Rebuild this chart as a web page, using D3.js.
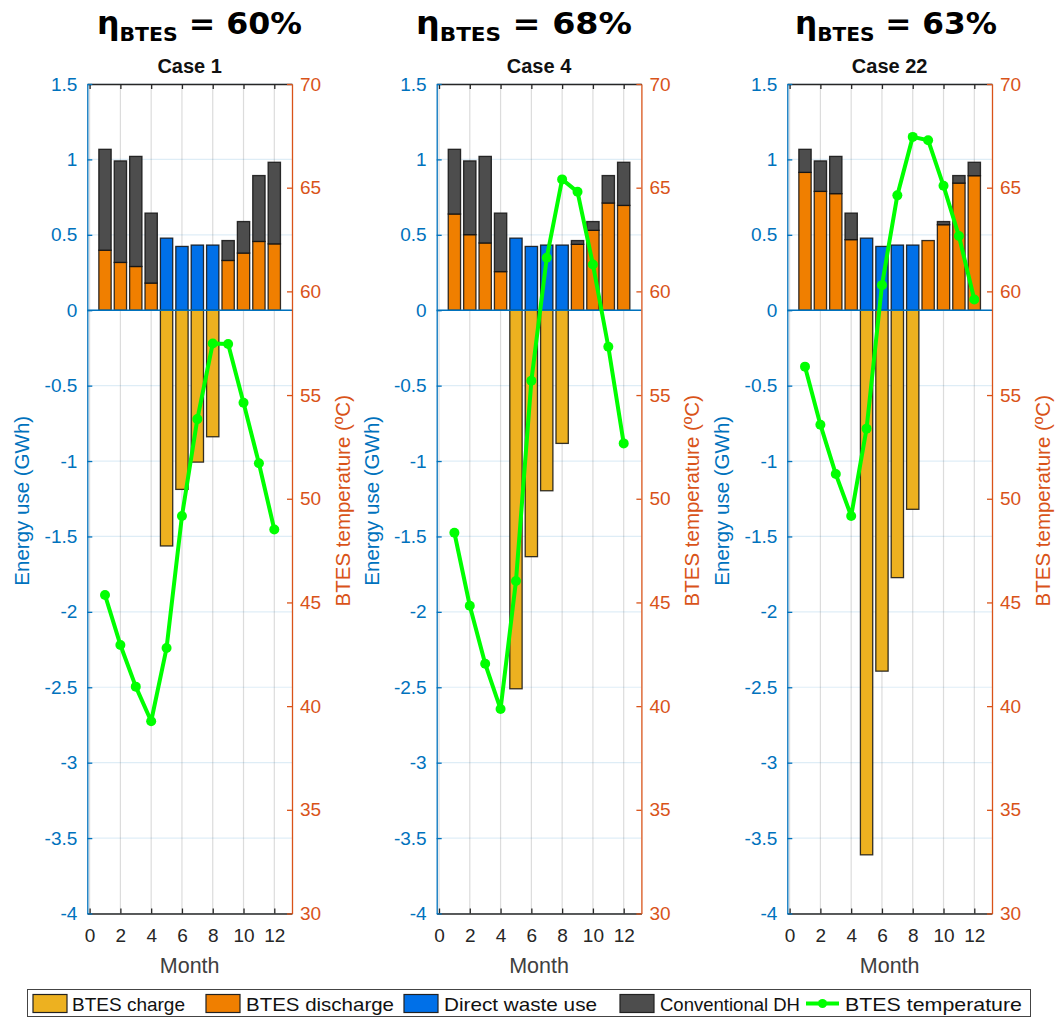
<!DOCTYPE html>
<html>
<head>
<meta charset="utf-8">
<script src="https://cdnjs.cloudflare.com/ajax/libs/d3/7.8.5/d3.min.js"></script>
<style>
  body { margin: 0; background: #fff; }
  svg { display: block; }
  text { font-family: "Liberation Sans", Arial, sans-serif; }
</style>
</head>
<body>
<svg id="chart" width="1055" height="1017"></svg>
<script>
// ---- data: monthly energy balance (GWh) and BTES temperature (°C) ----
const months = [1, 2, 3, 4, 5, 6, 7, 8, 9, 10, 11, 12];
const caseNames = ["Case 1", "Case 4", "Case 22"];
const efficiencies = ["60%", "68%", "63%"];

const directWasteUse = [0, 0, 0, 0, 0.478, 0.423, 0.432, 0.432, 0, 0, 0, 0];

const chargeCase1 = [0, 0, 0, 0, -1.563, -1.188, -1.007, -0.839, 0, 0, 0, 0];
const dischargeCase1 = [0.398, 0.317, 0.29, 0.18, 0, 0, 0, 0, 0.33, 0.379, 0.456, 0.44];
const conventionalCase1 = [0.669, 0.673, 0.73, 0.464, 0, 0, 0, 0, 0.132, 0.209, 0.437, 0.541];
const temperatureCase1 = [45.36, 42.95, 40.94, 39.27, 42.8, 49.17, 53.84, 57.49, 57.46, 54.63, 51.71, 48.52];

const chargeCase4 = [0, 0, 0, 0, -2.51, -1.634, -1.197, -0.883, 0, 0, 0, 0];
const dischargeCase4 = [0.638, 0.501, 0.446, 0.256, 0, 0, 0, 0, 0.437, 0.53, 0.711, 0.695];
const conventionalCase4 = [0.429, 0.489, 0.574, 0.388, 0, 0, 0, 0, 0.025, 0.058, 0.182, 0.286];
const temperatureCase4 = [48.36, 44.84, 42.04, 39.86, 46.03, 55.69, 61.62, 65.4, 64.8, 61.3, 57.33, 52.67];

const chargeCase22 = [0, 0, 0, 0, -3.611, -2.393, -1.773, -1.32, 0, 0, 0, 0];
const dischargeCase22 = [0.914, 0.788, 0.773, 0.468, 0, 0, 0, 0, 0.462, 0.567, 0.843, 0.892];
const conventionalCase22 = [0.153, 0.202, 0.247, 0.176, 0, 0, 0, 0, 0, 0.021, 0.05, 0.089];
const temperatureCase22 = [56.37, 53.57, 51.19, 49.17, 53.38, 60.3, 64.63, 67.45, 67.29, 65.09, 62.67, 59.61];

const energyTicks = [-4, -3.5, -3, -2.5, -2, -1.5, -1, -0.5, 0, 0.5, 1, 1.5];
const energyTickLabels = ["-4", "-3.5", "-3", "-2.5", "-2", "-1.5", "-1", "-0.5", "0", "0.5", "1", "1.5"];
const tempTicks = [30, 35, 40, 45, 50, 55, 60, 65, 70];
const tempTickLabels = ["30", "35", "40", "45", "50", "55", "60", "65", "70"];
const monthTicks = [0, 2, 4, 6, 8, 10, 12];
const monthTickLabels = ["0", "2", "4", "6", "8", "10", "12"];

const seriesNames = ["BTES charge", "BTES discharge", "Direct waste use", "Conventional DH", "BTES temperature"];

// ---- table used for drawing ----
const panels = [
  { name: caseNames[0], eff: efficiencies[0], charge: chargeCase1, discharge: dischargeCase1, conventional: conventionalCase1, temp: temperatureCase1 },
  { name: caseNames[1], eff: efficiencies[1], charge: chargeCase4, discharge: dischargeCase4, conventional: conventionalCase4, temp: temperatureCase4 },
  { name: caseNames[2], eff: efficiencies[2], charge: chargeCase22, discharge: dischargeCase22, conventional: conventionalCase22, temp: temperatureCase22 }
];

// ---- styling / layout ----
const COLORS = {
  charge: "#EDB120",
  discharge: "#F07F00",
  direct: "#0070E8",
  conventional: "#4D4D4D",
  temp: "#00FF00",
  leftAxis: "#0072BD",
  rightAxis: "#D95319",
  axis: "#262626"
};
const panelLefts = [87.3, 436.7, 787.3];
const titleSpans = [[97, 302], [416, 632], [795, 997]];
const plotW = 204.7;
const plotTop = 84, plotBottom = 913.5;
const barWidth = 0.8;

const svg = d3.select("#chart");

panels.forEach((p, pi) => {
  const left = panelLefts[pi];
  const right = left + plotW;
  const x = d3.scaleLinear().domain([-0.15, 13.15]).range([left, right]);
  const yE = d3.scaleLinear().domain([-4, 1.5]).range([plotBottom, plotTop]);
  const yT = d3.scaleLinear().domain([30, 70]).range([plotBottom, plotTop]);
  const g = svg.append("g").attr("class", "panel");

  // grid
  g.append("g").selectAll("line").data(monthTicks).join("line")
    .attr("x1", d => x(d)).attr("x2", d => x(d))
    .attr("y1", plotTop).attr("y2", plotBottom)
    .attr("stroke", "#dcdcdc").attr("stroke-width", 1.2);
  g.append("g").selectAll("line").data(energyTicks).join("line")
    .attr("x1", left).attr("x2", right)
    .attr("y1", d => yE(d)).attr("y2", d => yE(d))
    .attr("stroke", COLORS.leftAxis).attr("stroke-opacity", 0.13).attr("stroke-width", 1.2);

  // stacked bars
  const segs = [];
  months.forEach((m, i) => {
    if (p.charge[i] !== 0) segs.push({ m, y0: 0, y1: p.charge[i], c: COLORS.charge });
    let base = 0;
    if (p.discharge[i] > 0) { segs.push({ m, y0: base, y1: base + p.discharge[i], c: COLORS.discharge }); base += p.discharge[i]; }
    if (directWasteUse[i] > 0) { segs.push({ m, y0: base, y1: base + directWasteUse[i], c: COLORS.direct }); base += directWasteUse[i]; }
    if (p.conventional[i] > 0) { segs.push({ m, y0: base, y1: base + p.conventional[i], c: COLORS.conventional }); base += p.conventional[i]; }
  });
  g.append("g").selectAll("rect").data(segs).join("rect")
    .attr("x", d => x(d.m - barWidth / 2))
    .attr("width", d => x(d.m + barWidth / 2) - x(d.m - barWidth / 2))
    .attr("y", d => Math.min(yE(d.y0), yE(d.y1)))
    .attr("height", d => Math.abs(yE(d.y1) - yE(d.y0)))
    .attr("fill", d => d.c)
    .attr("stroke", "#111").attr("stroke-width", 1.3).attr("stroke-opacity", 0.85);

  // bar baseline
  g.append("line")
    .attr("x1", left).attr("x2", right)
    .attr("y1", yE(0)).attr("y2", yE(0))
    .attr("stroke", COLORS.leftAxis).attr("stroke-width", 1.3);

  // temperature line
  const line = d3.line().x((d, i) => x(months[i])).y(d => yT(d));
  g.append("path").datum(p.temp)
    .attr("d", line).attr("fill", "none")
    .attr("stroke", COLORS.temp).attr("stroke-width", 4).attr("stroke-linejoin", "round");
  g.append("g").selectAll("circle").data(p.temp).join("circle")
    .attr("cx", (d, i) => x(months[i])).attr("cy", d => yT(d)).attr("r", 5)
    .attr("fill", COLORS.temp);

  // axes
  const topAxis = d3.axisTop(x).tickValues(monthTicks).tickFormat("").tickSizeInner(-5).tickSizeOuter(0);
  const bottomAxis = d3.axisBottom(x).tickValues(monthTicks)
    .tickFormat((d, i) => monthTickLabels[i]).tickSizeInner(-5).tickSizeOuter(0).tickPadding(15);
  const leftAxis = d3.axisLeft(yE).tickValues(energyTicks)
    .tickFormat((d, i) => energyTickLabels[i]).tickSizeInner(-5).tickSizeOuter(0).tickPadding(10);
  const rightAxis = d3.axisRight(yT).tickValues(tempTicks)
    .tickFormat((d, i) => tempTickLabels[i]).tickSizeInner(-5).tickSizeOuter(0).tickPadding(8);

  const styleAxis = (sel, color) => {
    sel.select(".domain").attr("stroke", color).attr("stroke-width", 1.3);
    sel.selectAll(".tick line").attr("stroke", color).attr("stroke-width", 1.3);
    sel.selectAll(".tick text").attr("fill", color).attr("font-size", 19)
      .attr("font-family", "'Liberation Sans', Arial, sans-serif");
  };
  g.append("g").attr("transform", `translate(0,${plotTop})`).call(topAxis).call(s => styleAxis(s, COLORS.axis));
  g.append("g").attr("transform", `translate(0,${plotBottom})`).call(bottomAxis).call(s => styleAxis(s, COLORS.axis));
  g.append("g").attr("transform", `translate(${left},0)`).call(leftAxis).call(s => styleAxis(s, COLORS.leftAxis));
  g.append("g").attr("transform", `translate(${right},0)`).call(rightAxis).call(s => styleAxis(s, COLORS.rightAxis));

  // axis labels
  const midY = (plotTop + plotBottom) / 2;
  g.append("text").attr("transform", `translate(${left - 58},${midY + 2}) rotate(-90)`)
    .attr("text-anchor", "middle").attr("font-size", 20.5).attr("fill", COLORS.leftAxis)
    .text("Energy use (GWh)");
  g.append("text").attr("transform", `translate(${right + 58},${midY + 2}) rotate(-90)`)
    .attr("text-anchor", "middle").attr("font-size", 20.5).attr("fill", COLORS.rightAxis)
    .text("BTES temperature (ºC)");
  g.append("text").attr("x", (left + right) / 2).attr("y", 973)
    .attr("text-anchor", "middle").attr("font-size", 21.5).attr("fill", "#404040")
    .text("Month");

  // titles
  g.append("text").attr("x", (left + right) / 2).attr("y", 73)
    .attr("text-anchor", "middle").attr("font-size", 20).attr("font-weight", "bold")
    .attr("fill", "#111").text(p.name);
  const [tx0, tx1] = titleSpans[pi];
  const t = g.append("text").attr("x", tx0).attr("y", 34)
    .attr("font-weight", "bold").attr("fill", "#000")
    .style("font-family", "'DejaVu Sans', sans-serif")
    .attr("textLength", tx1 - tx0).attr("lengthAdjust", "spacingAndGlyphs");
  t.append("tspan").attr("font-size", 31).text("η");
  t.append("tspan").attr("font-size", 20).attr("dy", 7).text("BTES");
  t.append("tspan").attr("font-size", 31).attr("dy", -7).text(" = " + p.eff);
});

// ---- legend ----
const legend = svg.append("g");
legend.append("rect").attr("x", 27.5).attr("y", 989.5).attr("width", 1003).attr("height", 27)
  .attr("fill", "#fff").attr("stroke", "#444").attr("stroke-width", 1);
const legendItems = [
  { label: seriesNames[0], color: COLORS.charge, sx: 33, tx: 72, tw: 113 },
  { label: seriesNames[1], color: COLORS.discharge, sx: 206, tx: 246, tw: 148 },
  { label: seriesNames[2], color: COLORS.direct, sx: 404, tx: 444, tw: 153 },
  { label: seriesNames[3], color: COLORS.conventional, sx: 620, tx: 660, tw: 140 },
  { label: seriesNames[4], color: COLORS.temp, sx: 806, tx: 845, tw: 177, line: true }
];
legendItems.forEach(it => {
  if (it.line) {
    legend.append("line").attr("x1", it.sx).attr("x2", it.sx + 33).attr("y1", 1003.5).attr("y2", 1003.5)
      .attr("stroke", it.color).attr("stroke-width", 4);
    legend.append("circle").attr("cx", it.sx + 16.5).attr("cy", 1003.5).attr("r", 4.5).attr("fill", it.color);
  } else {
    legend.append("rect").attr("x", it.sx).attr("y", 994.5).attr("width", 34).attr("height", 18)
      .attr("fill", it.color).attr("stroke", "#222").attr("stroke-width", 1.2);
  }
  legend.append("text").attr("x", it.tx).attr("y", 1010.5).attr("font-size", 18.5).attr("fill", "#111")
    .attr("textLength", it.tw).attr("lengthAdjust", "spacingAndGlyphs").text(it.label);
});
</script>
</body>
</html>
